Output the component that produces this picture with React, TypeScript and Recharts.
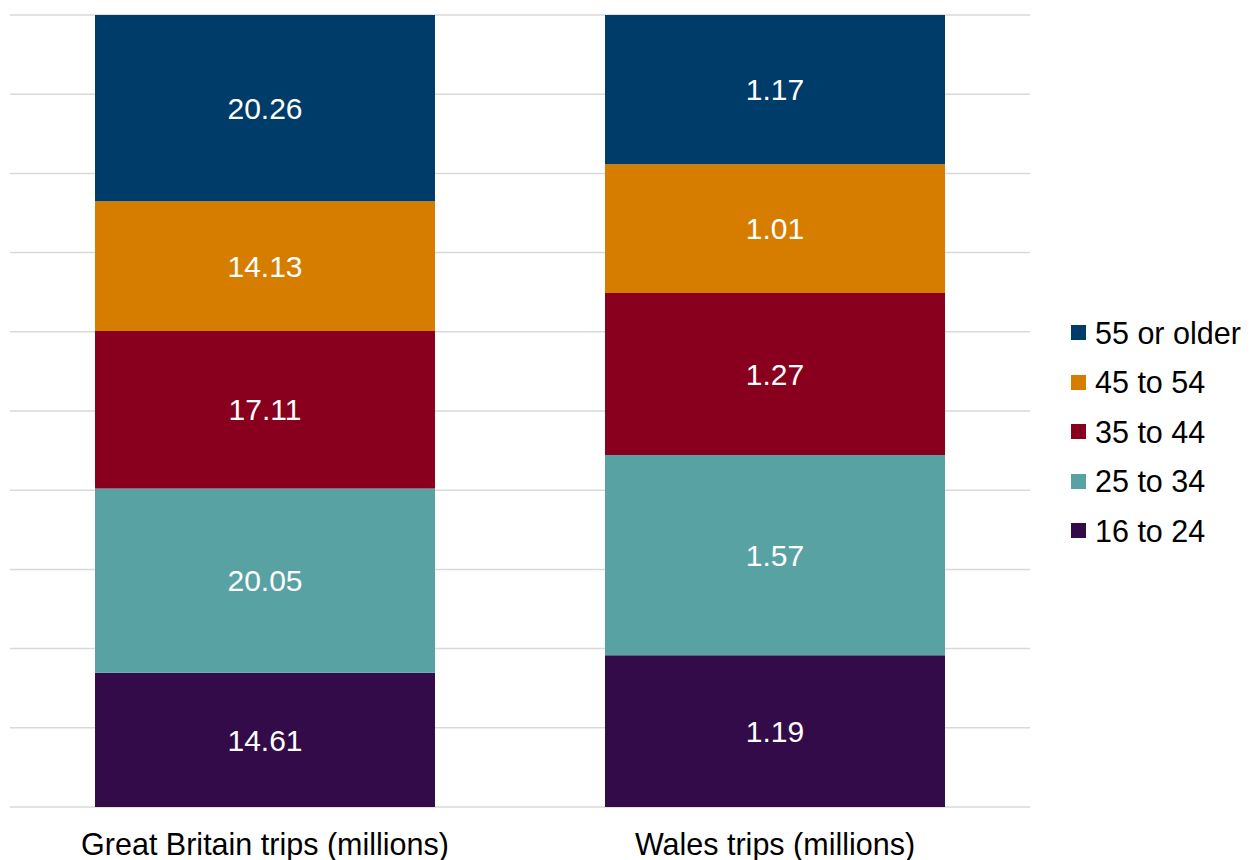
import { BarChart, Bar, XAxis, YAxis, CartesianGrid, LabelList } from "recharts";

const categories = ["Great Britain trips (millions)", "Wales trips (millions)"];
const age16to24 = [14.61, 1.19];
const age25to34 = [20.05, 1.57];
const age35to44 = [17.11, 1.27];
const age45to54 = [14.13, 1.01];
const age55plus = [20.26, 1.17];

const series = [
    { key: "a16", name: "16 to 24", values: age16to24, color: "#330B48" },
    { key: "a25", name: "25 to 34", values: age25to34, color: "#58A2A4" },
    { key: "a35", name: "35 to 44", values: age35to44, color: "#88001D" },
    { key: "a45", name: "45 to 54", values: age45to54, color: "#D67D00" },
    { key: "a55", name: "55 or older", values: age55plus, color: "#003C69" },
];

const data = categories.map((name, i) => {
    const row: Record<string, string | number> = { name };
    series.forEach(s => { row[s.key] = s.values[i]; });
    return row;
});

const font = "'Liberation Sans', Arial, sans-serif";

// legend lists the oldest group first, like the stack reads top-down
function AgeLegend() {
    return (
        <div style={{ position: "absolute", left: 1071, top: 308, fontFamily: font, fontSize: 30.5, color: "#000", lineHeight: 1 }}>
            {[...series].reverse().map(s => (
                <div key={s.key} style={{ display: "flex", alignItems: "center", height: 49.5 }}>
                    <span style={{ width: 15, height: 15, background: s.color, marginRight: 9, display: "inline-block" }} />
                    <span>{s.name}</span>
                </div>
            ))}
        </div>
    );
}

export default function App() {
    return (
        <div style={{ position: "absolute", left: 0, top: 0, width: 1252, height: 860, background: "#fff" }}>
            <BarChart
                width={1252}
                height={860}
                data={data}
                stackOffset="expand"
                barSize={340}
                margin={{ top: 15, right: 222, bottom: 0, left: 10 }}
            >
                <CartesianGrid vertical={false} stroke="#d9d9d9" strokeWidth={1.5} />
                <YAxis hide domain={[0, 1]} ticks={[0, 0.1, 0.2, 0.3, 0.4, 0.5, 0.6, 0.7, 0.8, 0.9, 1]} />
                <XAxis
                    dataKey="name"
                    height={53}
                    axisLine={false}
                    tickLine={false}
                    tick={{ fill: "#000", fontSize: 30.5, fontFamily: font }}
                    tickMargin={20}
                />
                {series.map(s => (
                    <Bar key={s.key} dataKey={s.key} name={s.name} stackId="age" fill={s.color} isAnimationActive={false}>
                        <LabelList
                            dataKey={s.key}
                            position="center"
                            fill="#fff"
                            style={{ fontSize: 30, fontFamily: font }}
                            formatter={(v: any) => Number(v).toFixed(2)}
                        />
                    </Bar>
                ))}
            </BarChart>
            <AgeLegend />
        </div>
    );
}
